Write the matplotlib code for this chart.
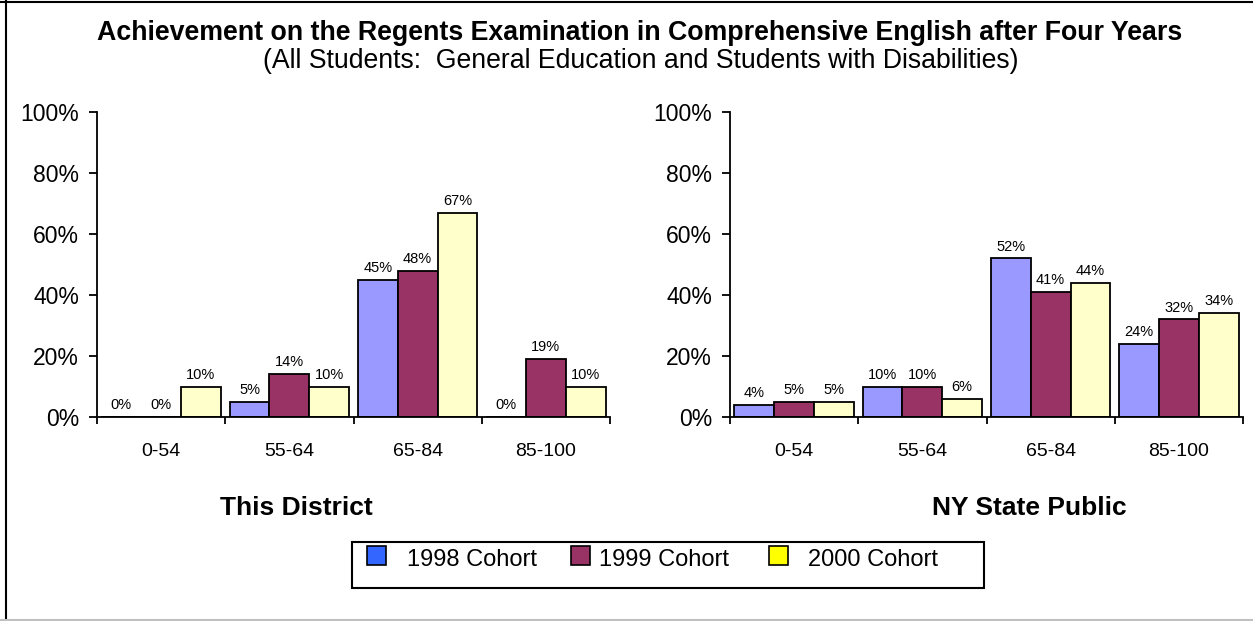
import matplotlib
matplotlib.use("Agg")
import matplotlib.pyplot as plt
from matplotlib.patches import Rectangle
from matplotlib.lines import Line2D
import numpy as np

plt.rcParams['font.family'] = ['Liberation Sans', 'DejaVu Sans']

categories = ["0-54", "55-64", "65-84", "85-100"]
series_names = ["1998 Cohort", "1999 Cohort", "2000 Cohort"]
district_1998 = [0, 5, 45, 0]
district_1999 = [0, 14, 48, 19]
district_2000 = [10, 10, 67, 10]
state_1998 = [4, 10, 52, 24]
state_1999 = [5, 10, 41, 32]
state_2000 = [5, 6, 44, 34]
yticks = [0, 20, 40, 60, 80, 100]
panel_titles = ["This District", "NY State Public"]

bar_colors = ["#9999FF", "#993366", "#FFFFCC"]
legend_colors = ["#3366FF", "#993366", "#FFFF00"]

W, H = 1253, 621
fig = plt.figure(figsize=(W / 100, H / 100), dpi=100)

def fx(px):
    return px / W

def fy(py):
    return 1 - py / H

panels = [
    ([district_1998, district_1999, district_2000], 97),
    ([state_1998, state_1999, state_2000], 730),
]

x = np.arange(len(categories))
bw = 0.31
for (series, left), ptitle, pcx in zip(panels, panel_titles, [296, 1029]):
    ax = fig.add_axes([fx(left), fy(417), fx(513), (417 - 112) / H])
    for i, vals in enumerate(series):
        pos = x + (i - 1) * bw
        ax.bar(pos, vals, width=bw, color=bar_colors[i], edgecolor="black",
               linewidth=1.3, zorder=2)
        for xp, v in zip(pos, vals):
            ax.annotate(f"{v}%", (xp, v), xytext=(0, 3.5), textcoords="offset points",
                        ha="center", va="bottom", fontsize=10.5)
    ax.set_xlim(-0.5, len(categories) - 0.5)
    ax.set_ylim(0, 100)
    ax.set_yticks(yticks)
    ax.set_yticklabels([f"{t}%" for t in yticks], fontsize=16.5)
    ax.set_xticks(x)
    ax.set_xticklabels(categories, fontsize=14)
    ax.set_xticks(np.arange(len(categories) + 1) - 0.5, minor=True)
    ax.tick_params(axis="x", which="major", length=0, pad=19)
    ax.tick_params(axis="x", which="minor", length=5, width=1.3, direction="out")
    ax.tick_params(axis="y", length=6, width=1.3, direction="out", pad=7)
    for s in ["top", "right"]:
        ax.spines[s].set_visible(False)
    for s in ["left", "bottom"]:
        ax.spines[s].set_linewidth(1.3)
    ax.set_facecolor("white")
    fig.text(fx(pcx), fy(508), ptitle, ha="center", va="center",
             fontsize=19, fontweight="bold")

fig.text(fx(640), fy(33), "Achievement on the Regents Examination in Comprehensive English after Four Years",
         ha="center", va="center", fontsize=19.3, fontweight="bold")
fig.text(fx(641), fy(61), "(All Students:  General Education and Students with Disabilities)",
         ha="center", va="center", fontsize=19.2)

# legend
fig.patches.append(Rectangle((fx(352), fy(588)), fx(984 - 352), (588 - 542) / H,
                             transform=fig.transFigure, facecolor="white",
                             edgecolor="black", linewidth=1.5))
handle_x = [367, 571, 769]
text_x = [407, 599, 808]
for hx, tx, name, c in zip(handle_x, text_x, series_names, legend_colors):
    fig.patches.append(Rectangle((fx(hx), fy(565)), fx(19), 19 / H,
                                 transform=fig.transFigure, facecolor=c,
                                 edgecolor="black", linewidth=1.2))
    fig.text(fx(tx), fy(560), name, ha="left", va="center", fontsize=17)

# border
fig.add_artist(Line2D([fx(6), fx(6)], [0, 1], transform=fig.transFigure, color="black", linewidth=1.5))
fig.add_artist(Line2D([0, 1], [fy(1.5), fy(1.5)], transform=fig.transFigure, color="black", linewidth=1.5))
fig.add_artist(Line2D([0, 1], [fy(619.5), fy(619.5)], transform=fig.transFigure, color="#C0C0C0", linewidth=1.5))

fig.savefig("out.png", dpi=100, facecolor="white")
